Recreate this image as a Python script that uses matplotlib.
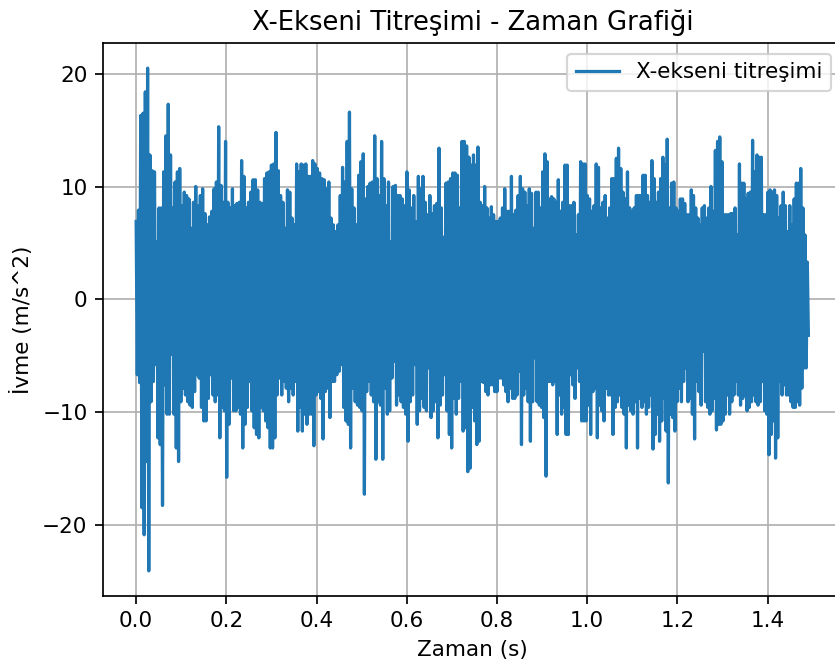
import numpy as np
import matplotlib.pyplot as plt

# Titreşim sinyalinin tepe (üst) ve dip (alt) değerleri, m/s^2
# Sinyal dört zaman dilimine bölündü; her dilimin tepe/dip listesi ayrı
seg_edges = [0.0, 0.366, 0.748, 1.129, 1.493]

hi_1 = [6.9, 7.9, 16.3, 16.5, 18.4, 20.5, 12.8, 11.4, 11.3, 5.1, 8.1, 8.1, 11.3, 14.5, 17.3,
        12.8, 8.1, 10.4, 11.3, 11.6, 8.3, 9.5, 9.2, 8.9, 6.3, 8.6, 10.0, 8.3, 9.2,
        9.8, 7.6, 6.6, 7.3, 7.8, 9.8, 10.4, 15.3, 10.1, 8.6, 14.0, 8.6, 8.1, 9.8, 8.3,
        8.5, 8.6, 12.3, 10.9, 8.1, 8.6, 9.5, 10.6, 10.6, 9.7, 8.6, 8.5, 10.7, 11.2, 11.3,
        11.9, 12.0, 14.8, 11.4, 9.2, 8.6, 6.3, 9.7, 9.5, 7.2, 6.6, 12.0, 11.3]
lo_1 = [-6.7, -7.4, -18.5, -20.9, -14.4, -24.1, -9.1, -7.3, -5.8, -12.3, -12.9, -18.3, -7.6,
        -10.2, -10.2, -4.9, -10.2, -13.2, -14.4, -9.1, -7.9, -8.5, -9.1, -9.4, -9.6, -8.2,
        -6.7, -7.0, -9.6, -10.8, -10.8, -8.8, -6.7, -8.5, -9.1, -8.5, -12.3, -9.6, -9.9,
        -15.8, -11.1, -7.0, -9.9, -9.9, -9.6, -10.2, -13.2, -11.1, -9.6, -7.3, -9.9, -11.4,
        -12.0, -12.3, -9.6, -9.9, -10.8, -11.4, -13.2, -13.2, -12.3, -8.5, -7.0, -8.5, -7.3,
        -7.9, -9.1, -7.9, -8.5, -7.3, -11.7, -9.6]

hi_2 = [12.0, 11.9, 12.0, 10.9, 10.9, 12.3, 12.0, 11.6, 11.2, 10.7, 10.6, 9.8, 10.4, 7.2, 6.6,
        6.0, 6.6, 9.2, 11.7, 10.4, 14.0, 16.6, 9.8, 8.1, 6.6, 11.0, 12.2, 12.9, 8.9, 10.0,
        10.3, 10.4, 14.5, 10.7, 9.2, 14.0, 10.7, 8.3, 10.4, 5.1, 10.0, 10.1, 9.2, 9.2, 8.9,
        8.3, 11.3, 9.7, 8.1, 9.2, 6.9, 10.9, 9.8, 10.9, 8.6, 7.5, 9.2, 7.6, 8.3, 8.5,
        13.4, 8.1, 5.5, 10.3, 10.4, 10.7, 11.2, 11.2, 11.0, 8.1, 14.0, 14.0, 13.6, 12.6, 11.9]
lo_2 = [-11.7, -10.2, -11.1, -10.2, -10.2, -13.0, -8.5, -8.2, -8.8, -12.4, -8.2, -7.9, -10.5,
        -7.3, -7.3, -6.7, -6.4, -5.8, -9.6, -10.8, -11.1, -13.2, -7.9, -9.1, -9.4, -9.6,
        -9.9, -17.3, -8.2, -7.3, -8.5, -9.1, -14.2, -9.1, -9.4, -14.2, -7.9, -10.2, -9.9,
        -7.0, -5.5, -9.4, -8.5, -9.1, -9.6, -10.2, -12.6, -9.1, -8.5, -5.8, -11.1, -9.9,
        -8.8, -9.6, -9.9, -6.1, -10.5, -9.9, -9.1, -12.3, -9.4, -8.5, -6.7, -9.9, -12.0,
        -13.2, -8.8, -10.2, -8.8, -7.3, -11.7, -11.4, -15.3, -15.0, -9.6]

hi_3 = [12.8, 11.9, 13.5, 8.6, 8.3, 10.0, 8.1, 7.2, 8.2, 7.5, 6.9, 6.9, 7.2, 8.1, 9.8,
        7.8, 7.8, 10.9, 7.5, 7.9, 9.2, 10.9, 9.8, 9.5, 8.3, 9.8, 9.4, 6.3, 9.5, 9.5,
        8.1, 11.3, 12.9, 12.2, 8.9, 9.1, 8.9, 8.6, 10.6, 7.8, 8.6, 11.9, 11.9, 8.3, 8.3,
        8.6, 5.7, 7.5, 12.2, 12.0, 12.0, 9.2, 8.9, 7.8, 8.3, 12.0, 11.7, 8.1, 8.6, 9.2,
        7.2, 8.1, 10.7, 10.7, 12.5, 13.4, 11.6, 9.5, 8.9, 11.3, 8.1, 7.8, 8.1, 9.2, 9.2,
        9.2, 11.0]
lo_3 = [-10.8, -12.9, -12.6, -7.3, -7.4, -8.2, -8.5, -7.6, -7.6, -8.2, -8.2, -7.0, -7.0,
        -7.6, -8.2, -9.1, -7.9, -8.8, -8.8, -8.5, -6.4, -12.9, -8.5, -7.9, -9.1, -12.6,
        -9.1, -5.2, -9.1, -9.4, -9.6, -10.5, -15.7, -7.3, -7.3, -7.6, -7.3, -12.0, -8.5,
        -10.2, -9.6, -12.0, -12.0, -6.7, -7.6, -8.8, -6.1, -7.3, -10.8, -10.8, -10.8, -9.4,
        -12.0, -8.2, -7.9, -12.3, -9.4, -9.9, -10.8, -7.9, -8.5, -8.5, -12.0, -9.6, -9.1,
        -8.5, -9.6, -10.2, -13.2, -9.4, -9.9, -10.2, -9.1, -13.2, -8.8, -9.6, -9.1]

hi_4 = [11.0, 9.2, 8.6, 12.3, 10.7, 8.6, 9.5, 10.7, 12.6, 11.9, 14.2, 8.1, 10.3, 10.4, 8.1,
        7.8, 8.9, 8.9, 8.5, 7.5, 7.5, 9.7, 9.2, 8.1, 7.2, 6.6, 8.1, 8.3, 7.2, 8.1,
        10.0, 7.8, 13.2, 14.0, 14.4, 12.2, 7.5, 7.5, 7.5, 7.6, 7.6, 8.1, 5.7, 12.0, 10.3,
        10.3, 8.9, 9.4, 9.5, 14.1, 11.3, 12.8, 12.6, 12.6, 7.5, 7.5, 9.5, 9.7, 9.5, 9.7,
        9.2, 7.2, 8.3, 9.5, 8.3, 6.0, 8.3, 6.6, 8.9, 10.3, 10.3, 11.6, 8.1, 5.7, 3.3]
lo_4 = [-10.2, -9.6, -8.5, -13.3, -12.0, -10.2, -12.6, -10.8, -8.8, -11.7, -16.3, -10.2,
        -10.5, -11.7, -9.1, -7.9, -9.1, -7.3, -6.1, -9.1, -8.8, -10.2, -12.4, -7.3, -8.2,
        -9.4, -4.6, -9.1, -9.6, -10.2, -9.9, -8.8, -11.6, -11.1, -11.1, -10.8, -10.2, -8.5,
        -10.2, -9.1, -8.5, -7.3, -8.5, -9.4, -8.8, -8.5, -9.9, -9.6, -9.1, -8.5, -9.1,
        -9.4, -9.1, -7.3, -9.9, -10.2, -13.8, -12.0, -10.8, -14.1, -12.3, -7.3, -8.5, -7.6,
        -8.5, -8.5, -9.1, -9.6, -9.6, -9.1, -9.4, -7.9, -6.1, -6.1, -3.2]

hi_segs = [hi_1, hi_2, hi_3, hi_4]
lo_segs = [lo_1, lo_2, lo_3, lo_4]


def dilim_zamani(vals, t0, t1, shift):
    # dilim içindeki değerleri eşit aralıklı zamanlara yerleştir
    step = (t1 - t0) / len(vals)
    return t0 + (np.arange(len(vals)) + shift) * step


t_parts, a_parts = [], []
for k in range(4):
    t0, t1 = seg_edges[k], seg_edges[k + 1]
    t_parts += [dilim_zamani(hi_segs[k], t0, t1, 0.0), dilim_zamani(lo_segs[k], t0, t1, 0.5)]
    a_parts += [np.array(hi_segs[k]), np.array(lo_segs[k])]

t = np.concatenate(t_parts)
a = np.concatenate(a_parts)
order = np.argsort(t, kind="stable")
t, a = t[order], a[order]

dpi = 155
fig = plt.figure(figsize=(835 / dpi, 668 / dpi), dpi=dpi)
ax = fig.add_axes([0.1228, 0.1078, 0.8856, 0.8278])

ax.plot(t, a, label="X-ekseni titreşimi")
ax.set_title("X-Ekseni Titreşimi - Zaman Grafiği")
ax.set_xlabel("Zaman (s)")
ax.set_ylabel("İvme (m/s^2)")
ax.legend(loc="upper right")
ax.grid(True)

fig.savefig("out.png", dpi=dpi)
